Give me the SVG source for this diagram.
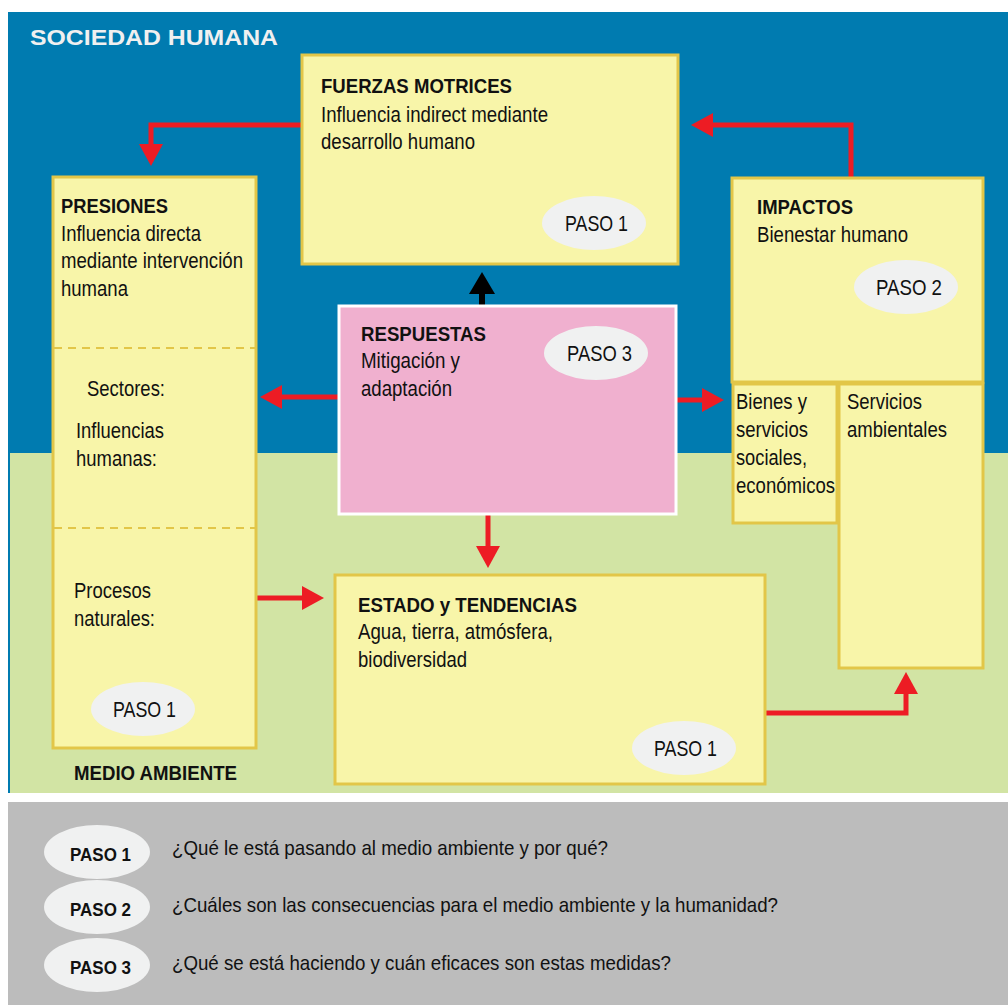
<svg xmlns="http://www.w3.org/2000/svg" width="1008" height="1005" viewBox="0 0 1008 1005">
  <style>
    .box { fill: #F8F5A9; stroke: #E2C648; stroke-width: 3; }
    .resp { fill: #F0B0CF; stroke: #FFFFFF; stroke-width: 3; }
    .div { stroke: #E2C648; stroke-width: 2; stroke-dasharray: 8 6; fill: none; }
    .pill { fill: #F0F1F1; }
    .t { font-family: "Liberation Sans", Arial, sans-serif; font-size: 22px; fill: #111; }
    .b { font-family: "Liberation Sans", Arial, sans-serif; font-size: 21px; font-weight: bold; fill: #111; }
    .q { font-family: "Liberation Sans", Arial, sans-serif; font-size: 21px; fill: #111; }
    .pb { font-family: "Liberation Sans", Arial, sans-serif; font-size: 19px; font-weight: bold; fill: #111; }
    .wire { fill: none; stroke: #ED1C24; stroke-width: 5; stroke-linejoin: miter; marker-end: url(#head); }
    .wire-k { fill: none; stroke: #000; stroke-width: 6; marker-end: url(#headk); }
  </style>
  <defs>
    <marker id="head" markerUnits="userSpaceOnUse" markerWidth="22" markerHeight="24" viewBox="0 0 22 24" refX="0" refY="12" orient="auto">
      <path d="M0,0 L22,12 L0,24 Z" fill="#ED1C24"/>
    </marker>
    <marker id="headk" markerUnits="userSpaceOnUse" markerWidth="22" markerHeight="26" viewBox="0 0 22 26" refX="0" refY="13" orient="auto">
      <path d="M0,0 L22,13 L0,26 Z" fill="#000"/>
    </marker>
  </defs>

  <!-- backgrounds -->
  <rect x="0" y="0" width="1008" height="1005" fill="#FFFFFF"/>
  <rect x="8" y="12" width="1000" height="781" fill="#007BB0"/>
  <rect x="10" y="453" width="998" height="340" fill="#D2E4A4"/>
  <rect x="8" y="802" width="1000" height="203" fill="#BCBCBC"/>

  <text x="30" y="45" font-family="'Liberation Sans', Arial, sans-serif" font-size="22" font-weight="bold" fill="#F0F0F0" textLength="248" lengthAdjust="spacingAndGlyphs">SOCIEDAD HUMANA</text>
  <text x="74" y="780" class="b" textLength="163" lengthAdjust="spacingAndGlyphs">MEDIO AMBIENTE</text>

  <!-- connectors -->
  <g id="connectors">
    <path class="wire" d="M302,125 H151 V144"/>
    <path class="wire" d="M851,178 V125 H713"/>
    <path class="wire-k" d="M482,306 V294"/>
    <path class="wire" d="M339,397 H282"/>
    <path class="wire" d="M676,400 H702"/>
    <path class="wire" d="M488,514 V546"/>
    <path class="wire" d="M256,598 H302"/>
    <path class="wire" d="M765,713 H906 V694"/>
  </g>

  <g id="fuerzas">
    <rect class="box" x="302" y="55" width="376" height="209"/>
    <text class="b" x="321" y="93" textLength="191" lengthAdjust="spacingAndGlyphs">FUERZAS MOTRICES</text>
    <text class="t" x="321" y="122" textLength="227" lengthAdjust="spacingAndGlyphs">Influencia indirect mediante</text>
    <text class="t" x="321" y="149" textLength="154" lengthAdjust="spacingAndGlyphs">desarrollo humano</text>
    <ellipse class="pill" cx="594" cy="223" rx="52" ry="27"/>
    <text class="t" x="565" y="231" textLength="63" lengthAdjust="spacingAndGlyphs">PASO 1</text>
  </g>

  <g id="presiones">
    <rect class="box" x="53" y="177" width="203" height="571"/>
    <line class="div" x1="54" y1="348" x2="255" y2="348"/>
    <line class="div" x1="54" y1="528" x2="255" y2="528"/>
    <text class="b" x="61" y="213" textLength="107" lengthAdjust="spacingAndGlyphs">PRESIONES</text>
    <text class="t" x="61" y="241" textLength="140" lengthAdjust="spacingAndGlyphs">Influencia directa</text>
    <text class="t" x="61" y="268" textLength="182" lengthAdjust="spacingAndGlyphs">mediante intervención</text>
    <text class="t" x="61" y="296" textLength="67" lengthAdjust="spacingAndGlyphs">humana</text>
    <text class="t" x="87" y="396" textLength="78" lengthAdjust="spacingAndGlyphs">Sectores:</text>
    <text class="t" x="76" y="438" textLength="88" lengthAdjust="spacingAndGlyphs">Influencias</text>
    <text class="t" x="76" y="466" textLength="81" lengthAdjust="spacingAndGlyphs">humanas:</text>
    <text class="t" x="74" y="598" textLength="77" lengthAdjust="spacingAndGlyphs">Procesos</text>
    <text class="t" x="74" y="626" textLength="81" lengthAdjust="spacingAndGlyphs">naturales:</text>
    <ellipse class="pill" cx="143" cy="709" rx="52" ry="27"/>
    <text class="t" x="113" y="717" textLength="63" lengthAdjust="spacingAndGlyphs">PASO 1</text>
  </g>

  <g id="impactos">
    <rect class="box" x="732" y="178" width="251" height="204"/>
    <text class="b" x="757" y="214" textLength="96" lengthAdjust="spacingAndGlyphs">IMPACTOS</text>
    <text class="t" x="757" y="242" textLength="151" lengthAdjust="spacingAndGlyphs">Bienestar humano</text>
    <ellipse class="pill" cx="906" cy="287" rx="52" ry="27"/>
    <text class="t" x="876" y="295" textLength="66" lengthAdjust="spacingAndGlyphs">PASO 2</text>
  </g>

  <g id="bienes">
    <rect class="box" x="733" y="384" width="104" height="139"/>
    <text class="t" x="736" y="409" textLength="71" lengthAdjust="spacingAndGlyphs">Bienes y</text>
    <text class="t" x="736" y="437" textLength="72" lengthAdjust="spacingAndGlyphs">servicios</text>
    <text class="t" x="736" y="465" textLength="71" lengthAdjust="spacingAndGlyphs">sociales,</text>
    <text class="t" x="736" y="493" textLength="99" lengthAdjust="spacingAndGlyphs">económicos</text>
  </g>

  <g id="servicios">
    <rect class="box" x="839" y="384" width="144" height="284"/>
    <text class="t" x="847" y="409" textLength="75" lengthAdjust="spacingAndGlyphs">Servicios</text>
    <text class="t" x="847" y="437" textLength="100" lengthAdjust="spacingAndGlyphs">ambientales</text>
  </g>

  <g id="respuestas">
    <rect class="resp" x="339" y="306" width="337" height="208"/>
    <text class="b" x="361" y="341" textLength="125" lengthAdjust="spacingAndGlyphs">RESPUESTAS</text>
    <text class="t" x="361" y="368" textLength="99" lengthAdjust="spacingAndGlyphs">Mitigación y</text>
    <text class="t" x="361" y="396" textLength="91" lengthAdjust="spacingAndGlyphs">adaptación</text>
    <ellipse class="pill" cx="596" cy="353" rx="52" ry="27"/>
    <text class="t" x="567" y="361" textLength="65" lengthAdjust="spacingAndGlyphs">PASO 3</text>
  </g>

  <g id="estado">
    <rect class="box" x="335" y="575" width="430" height="209"/>
    <text class="b" x="358" y="612" textLength="219" lengthAdjust="spacingAndGlyphs">ESTADO y TENDENCIAS</text>
    <text class="t" x="358" y="639" textLength="195" lengthAdjust="spacingAndGlyphs">Agua, tierra, atmósfera,</text>
    <text class="t" x="358" y="667" textLength="109" lengthAdjust="spacingAndGlyphs">biodiversidad</text>
    <ellipse class="pill" cx="684" cy="748" rx="52" ry="27"/>
    <text class="t" x="654" y="756" textLength="63" lengthAdjust="spacingAndGlyphs">PASO 1</text>
  </g>

  <!-- legend -->
  <g id="legend">
    <ellipse class="pill" cx="97" cy="852" rx="53" ry="27"/>
    <text class="pb" x="70" y="861" textLength="61" lengthAdjust="spacingAndGlyphs">PASO 1</text>
    <text class="q" x="172" y="855" textLength="436" lengthAdjust="spacingAndGlyphs">¿Qué le está pasando al medio ambiente y por qué?</text>
    <ellipse class="pill" cx="97" cy="907" rx="53" ry="27"/>
    <text class="pb" x="70" y="916" textLength="61" lengthAdjust="spacingAndGlyphs">PASO 2</text>
    <text class="q" x="172" y="912" textLength="606" lengthAdjust="spacingAndGlyphs">¿Cuáles son las consecuencias para el medio ambiente y la humanidad?</text>
    <ellipse class="pill" cx="97" cy="965" rx="53" ry="27"/>
    <text class="pb" x="70" y="974" textLength="61" lengthAdjust="spacingAndGlyphs">PASO 3</text>
    <text class="q" x="172" y="970" textLength="499" lengthAdjust="spacingAndGlyphs">¿Qué se está haciendo y cuán eficaces son estas medidas?</text>
  </g>
</svg>
